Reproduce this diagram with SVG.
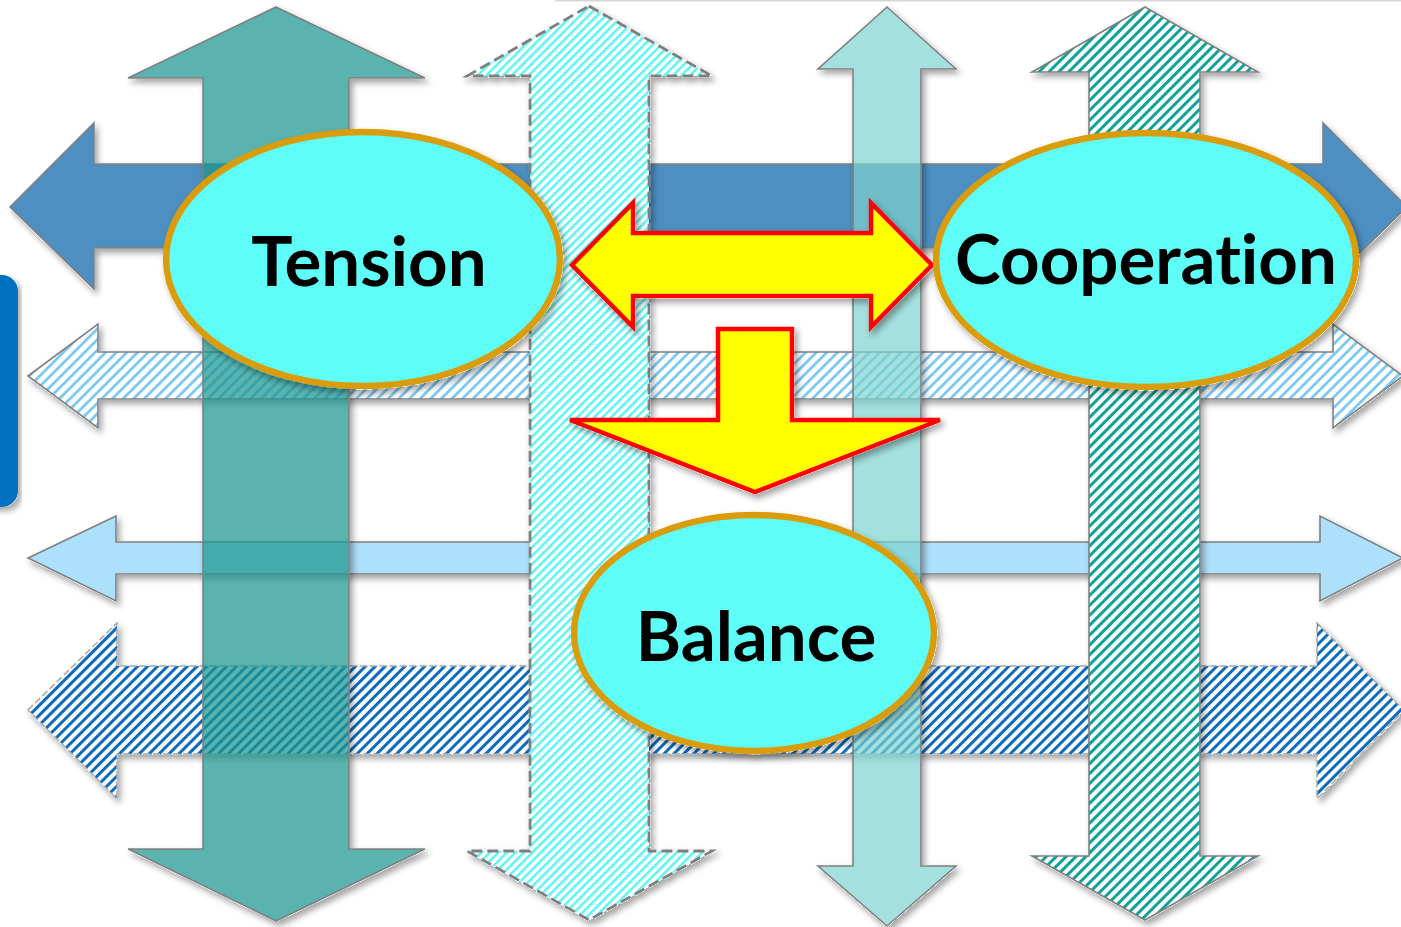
<svg xmlns="http://www.w3.org/2000/svg" width="1401" height="927" viewBox="0 0 1401 927">
<style>
.out{stroke:#7F7F7F;stroke-width:1.6;stroke-linejoin:miter}
.ell{fill:#5EFDF8;stroke:#D89C0C;stroke-width:6.5}
.lbl{font-family:Lato,"Open Sans","Liberation Sans",sans-serif;font-weight:bold;font-size:69px;fill:#000;text-anchor:middle;font-variant-ligatures:none;font-feature-settings:"liga" 0,"clig" 0,"dlig" 0,"calt" 0,"hlig" 0}
.yel{fill:#FFFF00;stroke:#FF0000;stroke-width:4.5;stroke-linejoin:miter}
</style>
<defs>
<filter id="sh" x="-10%" y="-10%" width="120%" height="120%">
<feComponentTransfer in="SourceAlpha" result="a"><feFuncA type="linear" slope="20"/></feComponentTransfer>
<feGaussianBlur in="a" stdDeviation="3"/>
<feOffset dx="3" dy="4" result="b"/>
<feComposite in="b" in2="a" operator="out" result="c"/>
<feFlood flood-color="#000" flood-opacity="0.35"/>
<feComposite in2="c" operator="in" result="s"/>
<feMerge><feMergeNode in="s"/><feMergeNode in="SourceGraphic"/></feMerge>
</filter>
<pattern id="pCyan" width="6" height="6" patternUnits="userSpaceOnUse" patternTransform="rotate(45)">
<rect width="6" height="6" fill="#fff"/><rect width="2.5" height="6" fill="#5CF3F3"/>
</pattern>
<pattern id="pLB" width="7.5" height="7.5" patternUnits="userSpaceOnUse" patternTransform="rotate(45)">
<rect width="7.5" height="7.5" fill="#fff"/><rect width="2.8" height="7.5" fill="#7DC9F3"/>
</pattern>
<pattern id="pTeal" width="7" height="7" patternUnits="userSpaceOnUse" patternTransform="rotate(45)">
<rect width="7" height="7" fill="#fff"/><rect width="3" height="7" fill="#0FA39A"/>
</pattern>
<pattern id="pDB" width="7" height="7" patternUnits="userSpaceOnUse" patternTransform="rotate(45)">
<rect width="7" height="7" fill="#fff"/><rect width="3" height="7" fill="#0A6CC0"/>
</pattern>
</defs>
<rect width="1401" height="927" fill="#fff"/>
<line x1="555" y1="0.5" x2="1401" y2="0.5" stroke="#D6D6D6" stroke-width="2"/>
<g id="sidebar"><rect x="-20" y="275" width="38" height="232" rx="16" fill="#0070C0" filter="url(#sh)"/></g>
<g id="connectors">
<g id="h1"><path class="out" fill="#4E8FC1" filter="url(#sh)" d="M10,207 L94,123 L94,164 L1323,164 L1323,123 L1407,207 L1323,289 L1323,248 L94,248 L94,289 Z"/></g>
<g id="h2"><path class="out" fill="url(#pLB)" filter="url(#sh)" d="M28,376 L98,324 L98,352 L1333,352 L1333,324 L1403,376 L1333,428 L1333,399 L98,399 L98,428 Z"/></g>
<g id="h3"><path class="out" fill="#ADE0FB" filter="url(#sh)" d="M28,558 L116,516 L116,542 L1320,542 L1320,516 L1403,558 L1320,601 L1320,574 L116,574 L116,601 Z"/></g>
<g id="h4"><path fill="url(#pDB)" stroke="#A6A6A6" stroke-width="1.5" stroke-dasharray="7 3" filter="url(#sh)" d="M28,710 L117,623 L117,666 L1317,666 L1317,623 L1404,710 L1317,799 L1317,754 L117,754 L117,799 Z"/></g>
<g id="v1"><path class="out" fill="#1A968F" fill-opacity="0.72" filter="url(#sh)" d="M276,7 L425,78 L349,78 L349,849 L425,849 L276,921 L128,849 L203,849 L203,78 L128,78 Z"/></g>
<g id="v2"><path fill="url(#pCyan)" stroke="#7F7F7F" stroke-width="2.8" stroke-dasharray="11 5" filter="url(#sh)" d="M589,6 L712,76 L649,76 L649,851 L712,851 L589,920 L467,851 L530,851 L530,76 L467,76 Z"/></g>
<g id="v3"><path class="out" fill="#7ED3CF" fill-opacity="0.7" filter="url(#sh)" d="M887,7 L956,69 L921,69 L921,866 L956,866 L887,926 L818,866 L853,866 L853,69 L818,69 Z"/></g>
<g id="v4"><path class="out" fill="url(#pTeal)" filter="url(#sh)" d="M1145,7 L1258,72 L1200,72 L1200,856 L1258,856 L1145,920 L1032,856 L1089,856 L1089,72 L1032,72 Z"/></g>
<g id="yellow-double"><path class="yel" filter="url(#sh)" d="M572,265 L633,203 L633,233 L871,233 L871,203 L932,265 L871,327 L871,296 L633,296 L633,327 Z"/></g>
<g id="yellow-down"><path class="yel" filter="url(#sh)" d="M718,329 L792,329 L792,420 L940,420 L755,492 L570,420 L718,420 Z"/></g>
</g>
<g id="tension"><ellipse class="ell" cx="363" cy="259" rx="197" ry="127" filter="url(#sh)"/><text class="lbl" x="369" y="286">Tension</text></g>
<g id="cooperation"><ellipse class="ell" cx="1146" cy="260" rx="210" ry="127" filter="url(#sh)"/><text class="lbl" x="1146" y="284">Cooperation</text></g>
<g id="balance"><ellipse class="ell" cx="754" cy="633" rx="180" ry="118" filter="url(#sh)"/><text class="lbl" x="756" y="661">Balance</text></g>
</svg>
